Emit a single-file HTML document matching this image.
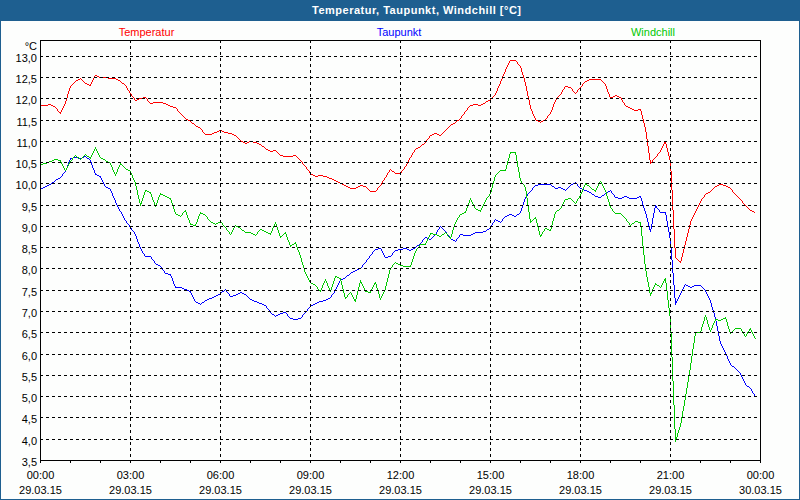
<!DOCTYPE html>
<html><head><meta charset="utf-8"><style>
html,body{margin:0;padding:0;width:800px;height:500px;overflow:hidden;background:#fff}
svg{display:block}
text{font-family:"Liberation Sans",sans-serif;font-size:11px;fill:#000}
.g{stroke:#000;stroke-width:1;stroke-dasharray:3 3;shape-rendering:crispEdges}
</style></head><body>
<svg width="800" height="500" viewBox="0 0 800 500">
<rect x="0" y="0" width="800" height="500" fill="#1e5f90"/>
<rect x="1" y="21" width="798" height="478" fill="#fdfefd"/>
<text x="312" y="14" style="font-weight:bold;fill:#fff;letter-spacing:0.5px">Temperatur, Taupunkt, Windchill [°C]</text>
<g shape-rendering="crispEdges">
<path d="M510 60h6v1h-6zM509 61h1v1h-1zM516 61h1v1h-1zM509 62h1v1h-1zM517 62h1v1h-1zM508 63h1v1h-1zM517 63h1v1h-1zM508 64h1v1h-1zM518 64h1v1h-1zM507 65h1v1h-1zM519 65h1v1h-1zM507 66h1v1h-1zM520 66h1v1h-1zM506 67h1v1h-1zM520 67h1v1h-1zM506 68h1v1h-1zM521 68h1v1h-1zM505 69h1v1h-1zM521 69h1v1h-1zM505 70h1v1h-1zM521 70h1v1h-1zM505 71h1v1h-1zM521 71h1v1h-1zM504 72h1v1h-1zM522 72h1v1h-1zM504 73h1v1h-1zM522 73h1v1h-1zM503 74h1v1h-1zM522 74h1v1h-1zM95 75h2v1h-2zM503 75h1v1h-1zM523 75h1v1h-1zM94 76h1v1h-1zM97 76h2v1h-2zM502 76h1v1h-1zM523 76h1v1h-1zM94 77h1v1h-1zM99 77h9v1h-9zM502 77h1v1h-1zM523 77h1v1h-1zM80 78h1v1h-1zM93 78h1v1h-1zM108 78h8v1h-8zM502 78h1v1h-1zM524 78h1v1h-1zM78 79h2v1h-2zM81 79h1v1h-1zM93 79h1v1h-1zM116 79h2v1h-2zM501 79h1v1h-1zM524 79h1v1h-1zM589 79h12v1h-12zM76 80h2v1h-2zM82 80h1v1h-1zM92 80h1v1h-1zM118 80h2v1h-2zM501 80h1v1h-1zM524 80h1v1h-1zM587 80h2v1h-2zM601 80h1v1h-1zM75 81h1v1h-1zM83 81h1v1h-1zM92 81h1v1h-1zM120 81h1v1h-1zM500 81h1v1h-1zM524 81h1v1h-1zM585 81h2v1h-2zM602 81h1v1h-1zM74 82h1v1h-1zM84 82h1v1h-1zM91 82h1v1h-1zM121 82h1v1h-1zM500 82h1v1h-1zM525 82h1v1h-1zM584 82h1v1h-1zM603 82h1v1h-1zM73 83h1v1h-1zM85 83h2v1h-2zM91 83h1v1h-1zM122 83h2v1h-2zM500 83h1v1h-1zM525 83h1v1h-1zM583 83h1v1h-1zM604 83h1v1h-1zM72 84h1v1h-1zM87 84h2v1h-2zM90 84h1v1h-1zM124 84h1v1h-1zM499 84h1v1h-1zM525 84h1v1h-1zM582 84h1v1h-1zM605 84h1v1h-1zM71 85h1v1h-1zM89 85h2v1h-2zM125 85h1v1h-1zM499 85h1v1h-1zM525 85h1v1h-1zM582 85h1v1h-1zM605 85h1v1h-1zM70 86h1v1h-1zM126 86h1v1h-1zM498 86h1v1h-1zM526 86h1v1h-1zM565 86h3v1h-3zM581 86h1v1h-1zM606 86h1v1h-1zM70 87h1v1h-1zM126 87h1v1h-1zM498 87h1v1h-1zM526 87h1v1h-1zM564 87h1v1h-1zM568 87h3v1h-3zM580 87h1v1h-1zM606 87h1v1h-1zM69 88h1v1h-1zM127 88h1v1h-1zM497 88h1v1h-1zM526 88h1v1h-1zM564 88h1v1h-1zM571 88h1v1h-1zM579 88h1v1h-1zM606 88h1v1h-1zM69 89h1v1h-1zM127 89h1v1h-1zM497 89h1v1h-1zM526 89h1v1h-1zM563 89h1v1h-1zM572 89h1v1h-1zM578 89h1v1h-1zM607 89h1v1h-1zM69 90h1v1h-1zM128 90h1v1h-1zM497 90h1v1h-1zM526 90h1v1h-1zM562 90h1v1h-1zM572 90h1v1h-1zM577 90h1v1h-1zM607 90h1v1h-1zM68 91h1v1h-1zM129 91h1v1h-1zM496 91h1v1h-1zM527 91h1v1h-1zM562 91h1v1h-1zM573 91h1v1h-1zM577 91h1v1h-1zM607 91h1v1h-1zM68 92h1v1h-1zM129 92h1v1h-1zM496 92h1v1h-1zM527 92h1v1h-1zM561 92h1v1h-1zM574 92h1v1h-1zM576 92h1v1h-1zM608 92h1v1h-1zM68 93h1v1h-1zM130 93h1v1h-1zM495 93h1v1h-1zM527 93h1v1h-1zM561 93h1v1h-1zM575 93h1v1h-1zM608 93h1v1h-1zM67 94h1v1h-1zM131 94h1v1h-1zM495 94h1v1h-1zM527 94h1v1h-1zM560 94h1v1h-1zM609 94h1v1h-1zM67 95h1v1h-1zM131 95h1v1h-1zM494 95h1v1h-1zM527 95h1v1h-1zM559 95h1v1h-1zM609 95h1v1h-1zM615 95h2v1h-2zM67 96h1v1h-1zM132 96h1v1h-1zM493 96h1v1h-1zM528 96h1v1h-1zM558 96h1v1h-1zM609 96h1v1h-1zM613 96h2v1h-2zM617 96h2v1h-2zM67 97h1v1h-1zM133 97h1v1h-1zM143 97h3v1h-3zM492 97h1v1h-1zM528 97h1v1h-1zM557 97h1v1h-1zM610 97h3v1h-3zM619 97h2v1h-2zM66 98h1v1h-1zM134 98h1v1h-1zM139 98h4v1h-4zM146 98h1v1h-1zM491 98h1v1h-1zM528 98h1v1h-1zM557 98h1v1h-1zM610 98h1v1h-1zM621 98h1v1h-1zM66 99h1v1h-1zM134 99h1v1h-1zM137 99h2v1h-2zM147 99h1v1h-1zM490 99h1v1h-1zM528 99h1v1h-1zM556 99h1v1h-1zM621 99h1v1h-1zM66 100h1v1h-1zM135 100h2v1h-2zM147 100h1v1h-1zM488 100h2v1h-2zM529 100h1v1h-1zM555 100h1v1h-1zM622 100h1v1h-1zM65 101h1v1h-1zM148 101h1v1h-1zM486 101h2v1h-2zM529 101h1v1h-1zM555 101h1v1h-1zM622 101h1v1h-1zM65 102h1v1h-1zM149 102h1v1h-1zM153 102h10v1h-10zM485 102h1v1h-1zM529 102h1v1h-1zM554 102h1v1h-1zM623 102h1v1h-1zM65 103h1v1h-1zM150 103h3v1h-3zM163 103h3v1h-3zM483 103h2v1h-2zM529 103h1v1h-1zM554 103h1v1h-1zM624 103h1v1h-1zM48 104h3v1h-3zM64 104h1v1h-1zM166 104h2v1h-2zM473 104h5v1h-5zM481 104h2v1h-2zM529 104h1v1h-1zM553 104h1v1h-1zM624 104h1v1h-1zM40 105h8v1h-8zM51 105h2v1h-2zM64 105h1v1h-1zM168 105h2v1h-2zM470 105h3v1h-3zM478 105h3v1h-3zM530 105h1v1h-1zM553 105h1v1h-1zM625 105h1v1h-1zM53 106h2v1h-2zM63 106h1v1h-1zM170 106h3v1h-3zM469 106h1v1h-1zM530 106h1v1h-1zM553 106h1v1h-1zM626 106h2v1h-2zM55 107h1v1h-1zM63 107h1v1h-1zM173 107h3v1h-3zM468 107h1v1h-1zM530 107h1v1h-1zM552 107h1v1h-1zM628 107h2v1h-2zM56 108h1v1h-1zM62 108h1v1h-1zM176 108h1v1h-1zM467 108h1v1h-1zM530 108h1v1h-1zM552 108h1v1h-1zM630 108h2v1h-2zM57 109h1v1h-1zM62 109h1v1h-1zM177 109h1v1h-1zM467 109h1v1h-1zM531 109h1v1h-1zM552 109h1v1h-1zM632 109h2v1h-2zM638 109h3v1h-3zM57 110h1v1h-1zM61 110h1v1h-1zM177 110h1v1h-1zM466 110h1v1h-1zM531 110h1v1h-1zM551 110h1v1h-1zM634 110h4v1h-4zM640 110h1v1h-1zM58 111h1v1h-1zM61 111h1v1h-1zM178 111h1v1h-1zM465 111h1v1h-1zM532 111h1v1h-1zM551 111h1v1h-1zM641 111h1v1h-1zM59 112h2v1h-2zM179 112h1v1h-1zM464 112h1v1h-1zM532 112h1v1h-1zM550 112h1v1h-1zM641 112h1v1h-1zM60 113h1v1h-1zM180 113h1v1h-1zM464 113h1v1h-1zM532 113h1v1h-1zM550 113h1v1h-1zM641 113h1v1h-1zM181 114h1v1h-1zM463 114h1v1h-1zM533 114h1v1h-1zM549 114h1v1h-1zM641 114h1v1h-1zM182 115h1v1h-1zM462 115h1v1h-1zM533 115h1v1h-1zM548 115h1v1h-1zM642 115h1v1h-1zM183 116h1v1h-1zM461 116h1v1h-1zM534 116h1v1h-1zM547 116h1v1h-1zM642 116h1v1h-1zM184 117h1v1h-1zM461 117h1v1h-1zM534 117h1v1h-1zM547 117h1v1h-1zM642 117h1v1h-1zM185 118h1v1h-1zM460 118h1v1h-1zM535 118h1v1h-1zM546 118h1v1h-1zM642 118h1v1h-1zM186 119h2v1h-2zM459 119h1v1h-1zM535 119h1v1h-1zM545 119h1v1h-1zM643 119h1v1h-1zM188 120h2v1h-2zM457 120h2v1h-2zM536 120h2v1h-2zM543 120h2v1h-2zM643 120h1v1h-1zM190 121h1v1h-1zM456 121h1v1h-1zM538 121h2v1h-2zM541 121h2v1h-2zM643 121h1v1h-1zM191 122h1v1h-1zM455 122h1v1h-1zM540 122h1v1h-1zM643 122h1v1h-1zM192 123h2v1h-2zM453 123h2v1h-2zM644 123h1v1h-1zM194 124h1v1h-1zM451 124h2v1h-2zM644 124h1v1h-1zM195 125h1v1h-1zM450 125h1v1h-1zM644 125h1v1h-1zM196 126h2v1h-2zM449 126h1v1h-1zM644 126h1v1h-1zM198 127h2v1h-2zM448 127h1v1h-1zM645 127h1v1h-1zM200 128h1v1h-1zM447 128h1v1h-1zM645 128h1v1h-1zM201 129h1v1h-1zM446 129h1v1h-1zM645 129h1v1h-1zM202 130h1v1h-1zM219 130h3v1h-3zM445 130h1v1h-1zM645 130h1v1h-1zM202 131h1v1h-1zM217 131h2v1h-2zM222 131h2v1h-2zM444 131h1v1h-1zM645 131h1v1h-1zM203 132h1v1h-1zM214 132h3v1h-3zM224 132h4v1h-4zM443 132h1v1h-1zM646 132h1v1h-1zM204 133h1v1h-1zM212 133h2v1h-2zM228 133h4v1h-4zM434 133h3v1h-3zM442 133h1v1h-1zM646 133h1v1h-1zM205 134h7v1h-7zM232 134h2v1h-2zM432 134h2v1h-2zM437 134h2v1h-2zM441 134h1v1h-1zM646 134h1v1h-1zM234 135h2v1h-2zM430 135h2v1h-2zM439 135h2v1h-2zM646 135h1v1h-1zM236 136h1v1h-1zM429 136h1v1h-1zM646 136h1v1h-1zM237 137h1v1h-1zM429 137h1v1h-1zM646 137h1v1h-1zM238 138h1v1h-1zM428 138h1v1h-1zM646 138h1v1h-1zM239 139h1v1h-1zM427 139h1v1h-1zM647 139h1v1h-1zM240 140h1v1h-1zM426 140h1v1h-1zM647 140h1v1h-1zM241 141h2v1h-2zM249 141h4v1h-4zM426 141h1v1h-1zM647 141h1v1h-1zM665 141h1v1h-1zM243 142h2v1h-2zM247 142h2v1h-2zM253 142h4v1h-4zM425 142h1v1h-1zM647 142h1v1h-1zM664 142h2v1h-2zM245 143h2v1h-2zM257 143h2v1h-2zM424 143h1v1h-1zM647 143h1v1h-1zM664 143h2v1h-2zM259 144h2v1h-2zM422 144h2v1h-2zM647 144h1v1h-1zM663 144h1v1h-1zM666 144h1v1h-1zM261 145h1v1h-1zM421 145h1v1h-1zM647 145h1v1h-1zM663 145h1v1h-1zM666 145h1v1h-1zM262 146h2v1h-2zM420 146h1v1h-1zM648 146h1v1h-1zM662 146h1v1h-1zM666 146h1v1h-1zM264 147h1v1h-1zM418 147h2v1h-2zM648 147h1v1h-1zM662 147h1v1h-1zM666 147h1v1h-1zM265 148h1v1h-1zM416 148h2v1h-2zM648 148h1v1h-1zM661 148h1v1h-1zM667 148h1v1h-1zM266 149h2v1h-2zM415 149h1v1h-1zM648 149h1v1h-1zM661 149h1v1h-1zM667 149h1v1h-1zM268 150h2v1h-2zM273 150h3v1h-3zM414 150h1v1h-1zM648 150h1v1h-1zM660 150h1v1h-1zM667 150h1v1h-1zM270 151h3v1h-3zM276 151h1v1h-1zM414 151h1v1h-1zM648 151h1v1h-1zM660 151h1v1h-1zM667 151h1v1h-1zM277 152h1v1h-1zM413 152h1v1h-1zM648 152h1v1h-1zM659 152h1v1h-1zM668 152h1v1h-1zM278 153h1v1h-1zM412 153h1v1h-1zM649 153h1v1h-1zM658 153h1v1h-1zM668 153h1v1h-1zM279 154h1v1h-1zM412 154h1v1h-1zM649 154h1v1h-1zM657 154h1v1h-1zM668 154h1v1h-1zM280 155h3v1h-3zM293 155h3v1h-3zM411 155h1v1h-1zM649 155h1v1h-1zM657 155h1v1h-1zM668 155h1v1h-1zM283 156h10v1h-10zM296 156h1v1h-1zM411 156h1v1h-1zM649 156h1v1h-1zM656 156h1v1h-1zM669 156h1v1h-1zM297 157h1v1h-1zM410 157h1v1h-1zM649 157h1v1h-1zM655 157h1v1h-1zM669 157h1v1h-1zM298 158h1v1h-1zM409 158h1v1h-1zM649 158h1v1h-1zM654 158h1v1h-1zM669 158h1v1h-1zM299 159h1v1h-1zM409 159h1v1h-1zM649 159h1v1h-1zM653 159h1v1h-1zM669 159h1v1h-1zM300 160h1v1h-1zM408 160h1v1h-1zM650 160h1v1h-1zM652 160h1v1h-1zM670 160h1v1h-1zM301 161h1v1h-1zM408 161h1v1h-1zM650 161h1v1h-1zM652 161h1v1h-1zM670 161h1v1h-1zM302 162h1v1h-1zM407 162h1v1h-1zM650 162h2v1h-2zM670 162h1v1h-1zM302 163h1v1h-1zM407 163h1v1h-1zM650 163h1v1h-1zM670 163h1v1h-1zM303 164h1v1h-1zM406 164h1v1h-1zM670 164h1v1h-1zM304 165h1v1h-1zM406 165h1v1h-1zM670 165h1v1h-1zM305 166h1v1h-1zM405 166h1v1h-1zM670 166h1v1h-1zM306 167h1v1h-1zM404 167h1v1h-1zM670 167h1v1h-1zM306 168h1v1h-1zM404 168h1v1h-1zM670 168h1v1h-1zM307 169h1v1h-1zM390 169h1v1h-1zM403 169h1v1h-1zM670 169h1v1h-1zM308 170h1v1h-1zM389 170h1v1h-1zM391 170h1v1h-1zM402 170h1v1h-1zM670 170h1v1h-1zM309 171h1v1h-1zM389 171h1v1h-1zM392 171h2v1h-2zM401 171h1v1h-1zM671 171h1v1h-1zM309 172h1v1h-1zM388 172h1v1h-1zM394 172h1v1h-1zM401 172h1v1h-1zM671 172h1v1h-1zM310 173h1v1h-1zM387 173h1v1h-1zM395 173h6v1h-6zM671 173h1v1h-1zM311 174h2v1h-2zM387 174h1v1h-1zM671 174h1v1h-1zM313 175h2v1h-2zM318 175h5v1h-5zM386 175h1v1h-1zM671 175h1v1h-1zM315 176h3v1h-3zM323 176h4v1h-4zM386 176h1v1h-1zM671 176h1v1h-1zM327 177h2v1h-2zM385 177h1v1h-1zM671 177h1v1h-1zM329 178h3v1h-3zM384 178h1v1h-1zM671 178h1v1h-1zM332 179h2v1h-2zM384 179h1v1h-1zM671 179h1v1h-1zM334 180h2v1h-2zM383 180h1v1h-1zM671 180h1v1h-1zM336 181h2v1h-2zM382 181h1v1h-1zM671 181h1v1h-1zM338 182h2v1h-2zM382 182h1v1h-1zM671 182h1v1h-1zM340 183h2v1h-2zM381 183h1v1h-1zM671 183h1v1h-1zM342 184h2v1h-2zM381 184h1v1h-1zM671 184h1v1h-1zM719 184h4v1h-4zM344 185h2v1h-2zM360 185h3v1h-3zM380 185h1v1h-1zM671 185h1v1h-1zM717 185h2v1h-2zM723 185h3v1h-3zM346 186h2v1h-2zM358 186h2v1h-2zM363 186h3v1h-3zM379 186h1v1h-1zM671 186h1v1h-1zM715 186h2v1h-2zM726 186h2v1h-2zM348 187h2v1h-2zM356 187h2v1h-2zM366 187h1v1h-1zM378 187h1v1h-1zM671 187h1v1h-1zM714 187h1v1h-1zM728 187h2v1h-2zM350 188h6v1h-6zM367 188h1v1h-1zM377 188h1v1h-1zM671 188h1v1h-1zM713 188h1v1h-1zM730 188h1v1h-1zM368 189h1v1h-1zM377 189h1v1h-1zM671 189h1v1h-1zM712 189h1v1h-1zM731 189h1v1h-1zM369 190h1v1h-1zM376 190h1v1h-1zM672 190h1v1h-1zM711 190h1v1h-1zM732 190h1v1h-1zM370 191h6v1h-6zM672 191h1v1h-1zM710 191h1v1h-1zM732 191h1v1h-1zM672 192h1v1h-1zM708 192h2v1h-2zM733 192h1v1h-1zM672 193h1v1h-1zM706 193h2v1h-2zM734 193h1v1h-1zM672 194h1v1h-1zM705 194h1v1h-1zM735 194h1v1h-1zM672 195h1v1h-1zM704 195h1v1h-1zM736 195h1v1h-1zM672 196h1v1h-1zM704 196h1v1h-1zM737 196h1v1h-1zM672 197h1v1h-1zM703 197h1v1h-1zM738 197h1v1h-1zM672 198h1v1h-1zM702 198h1v1h-1zM739 198h1v1h-1zM672 199h1v1h-1zM701 199h1v1h-1zM740 199h1v1h-1zM672 200h1v1h-1zM701 200h1v1h-1zM741 200h1v1h-1zM672 201h1v1h-1zM700 201h1v1h-1zM742 201h1v1h-1zM672 202h1v1h-1zM700 202h1v1h-1zM742 202h1v1h-1zM672 203h1v1h-1zM699 203h1v1h-1zM743 203h1v1h-1zM672 204h1v1h-1zM699 204h1v1h-1zM744 204h1v1h-1zM672 205h1v1h-1zM698 205h1v1h-1zM745 205h1v1h-1zM672 206h1v1h-1zM698 206h1v1h-1zM746 206h1v1h-1zM672 207h1v1h-1zM697 207h1v1h-1zM747 207h1v1h-1zM672 208h1v1h-1zM697 208h1v1h-1zM748 208h1v1h-1zM672 209h1v1h-1zM696 209h1v1h-1zM749 209h1v1h-1zM673 210h1v1h-1zM696 210h1v1h-1zM750 210h2v1h-2zM673 211h1v1h-1zM695 211h1v1h-1zM752 211h2v1h-2zM673 212h1v1h-1zM695 212h1v1h-1zM754 212h1v1h-1zM673 213h1v1h-1zM694 213h1v1h-1zM673 214h1v1h-1zM694 214h1v1h-1zM673 215h1v1h-1zM693 215h1v1h-1zM673 216h1v1h-1zM693 216h1v1h-1zM673 217h1v1h-1zM692 217h1v1h-1zM673 218h1v1h-1zM692 218h1v1h-1zM673 219h1v1h-1zM691 219h1v1h-1zM673 220h1v1h-1zM691 220h1v1h-1zM673 221h1v1h-1zM690 221h1v1h-1zM673 222h1v1h-1zM690 222h1v1h-1zM673 223h1v1h-1zM690 223h1v1h-1zM673 224h1v1h-1zM690 224h1v1h-1zM673 225h1v1h-1zM689 225h1v1h-1zM673 226h1v1h-1zM689 226h1v1h-1zM673 227h1v1h-1zM689 227h1v1h-1zM673 228h1v1h-1zM689 228h1v1h-1zM674 229h1v1h-1zM688 229h1v1h-1zM674 230h1v1h-1zM688 230h1v1h-1zM674 231h1v1h-1zM688 231h1v1h-1zM674 232h1v1h-1zM688 232h1v1h-1zM674 233h1v1h-1zM687 233h1v1h-1zM674 234h1v1h-1zM687 234h1v1h-1zM674 235h1v1h-1zM687 235h1v1h-1zM674 236h1v1h-1zM687 236h1v1h-1zM674 237h1v1h-1zM686 237h1v1h-1zM674 238h1v1h-1zM686 238h1v1h-1zM674 239h1v1h-1zM686 239h1v1h-1zM674 240h1v1h-1zM686 240h1v1h-1zM674 241h1v1h-1zM685 241h1v1h-1zM674 242h1v1h-1zM685 242h1v1h-1zM674 243h1v1h-1zM685 243h1v1h-1zM674 244h1v1h-1zM685 244h1v1h-1zM674 245h1v1h-1zM684 245h1v1h-1zM674 246h1v1h-1zM684 246h1v1h-1zM674 247h1v1h-1zM684 247h1v1h-1zM675 248h1v1h-1zM684 248h1v1h-1zM675 249h1v1h-1zM683 249h1v1h-1zM675 250h1v1h-1zM683 250h1v1h-1zM675 251h1v1h-1zM683 251h1v1h-1zM675 252h1v1h-1zM683 252h1v1h-1zM675 253h1v1h-1zM682 253h1v1h-1zM675 254h1v1h-1zM682 254h1v1h-1zM675 255h1v1h-1zM682 255h1v1h-1zM675 256h1v1h-1zM682 256h1v1h-1zM675 257h1v1h-1zM681 257h1v1h-1zM676 258h1v1h-1zM681 258h1v1h-1zM677 259h1v1h-1zM681 259h1v1h-1zM678 260h1v1h-1zM681 260h1v1h-1zM679 261h2v1h-2zM680 262h1v1h-1z" fill="#ff0000"/><path d="M84 156h2v1h-2zM73 157h5v1h-5zM82 157h2v1h-2zM86 157h1v1h-1zM70 158h3v1h-3zM78 158h4v1h-4zM87 158h2v1h-2zM70 159h1v1h-1zM89 159h1v1h-1zM69 160h1v1h-1zM90 160h1v1h-1zM69 161h1v1h-1zM90 161h1v1h-1zM68 162h1v1h-1zM91 162h1v1h-1zM68 163h1v1h-1zM91 163h1v1h-1zM68 164h1v1h-1zM91 164h1v1h-1zM67 165h1v1h-1zM92 165h1v1h-1zM67 166h1v1h-1zM92 166h1v1h-1zM67 167h1v1h-1zM92 167h1v1h-1zM66 168h1v1h-1zM93 168h1v1h-1zM66 169h1v1h-1zM93 169h1v1h-1zM65 170h1v1h-1zM94 170h1v1h-1zM65 171h1v1h-1zM94 171h1v1h-1zM64 172h1v1h-1zM94 172h1v1h-1zM63 173h1v1h-1zM95 173h1v1h-1zM62 174h1v1h-1zM95 174h2v1h-2zM62 175h1v1h-1zM97 175h2v1h-2zM61 176h1v1h-1zM99 176h2v1h-2zM60 177h1v1h-1zM100 177h1v1h-1zM58 178h2v1h-2zM101 178h1v1h-1zM56 179h2v1h-2zM101 179h1v1h-1zM55 180h1v1h-1zM102 180h1v1h-1zM54 181h1v1h-1zM102 181h1v1h-1zM52 182h2v1h-2zM103 182h1v1h-1zM575 182h1v1h-1zM51 183h1v1h-1zM103 183h1v1h-1zM573 183h2v1h-2zM576 183h1v1h-1zM49 184h2v1h-2zM104 184h1v1h-1zM538 184h13v1h-13zM571 184h2v1h-2zM577 184h1v1h-1zM47 185h2v1h-2zM104 185h1v1h-1zM535 185h3v1h-3zM551 185h1v1h-1zM570 185h1v1h-1zM577 185h1v1h-1zM45 186h2v1h-2zM105 186h1v1h-1zM534 186h1v1h-1zM552 186h2v1h-2zM569 186h1v1h-1zM578 186h1v1h-1zM43 187h2v1h-2zM106 187h2v1h-2zM533 187h1v1h-1zM554 187h1v1h-1zM558 187h3v1h-3zM568 187h1v1h-1zM579 187h1v1h-1zM41 188h2v1h-2zM108 188h2v1h-2zM532 188h1v1h-1zM555 188h3v1h-3zM561 188h2v1h-2zM567 188h1v1h-1zM580 188h2v1h-2zM40 189h1v1h-1zM110 189h1v1h-1zM532 189h1v1h-1zM563 189h2v1h-2zM566 189h1v1h-1zM582 189h2v1h-2zM110 190h1v1h-1zM531 190h1v1h-1zM565 190h1v1h-1zM584 190h3v1h-3zM610 190h1v1h-1zM111 191h1v1h-1zM530 191h1v1h-1zM587 191h2v1h-2zM608 191h2v1h-2zM611 191h1v1h-1zM111 192h1v1h-1zM529 192h1v1h-1zM589 192h2v1h-2zM606 192h2v1h-2zM611 192h1v1h-1zM112 193h1v1h-1zM528 193h1v1h-1zM591 193h1v1h-1zM605 193h1v1h-1zM612 193h1v1h-1zM112 194h1v1h-1zM527 194h1v1h-1zM592 194h2v1h-2zM604 194h1v1h-1zM613 194h1v1h-1zM112 195h1v1h-1zM527 195h1v1h-1zM594 195h1v1h-1zM602 195h2v1h-2zM614 195h1v1h-1zM113 196h1v1h-1zM526 196h1v1h-1zM595 196h3v1h-3zM601 196h1v1h-1zM614 196h1v1h-1zM624 196h3v1h-3zM639 196h2v1h-2zM113 197h1v1h-1zM525 197h1v1h-1zM598 197h3v1h-3zM615 197h3v1h-3zM622 197h2v1h-2zM627 197h2v1h-2zM637 197h2v1h-2zM640 197h1v1h-1zM114 198h1v1h-1zM525 198h1v1h-1zM618 198h4v1h-4zM629 198h8v1h-8zM641 198h1v1h-1zM114 199h1v1h-1zM524 199h1v1h-1zM641 199h1v1h-1zM115 200h1v1h-1zM524 200h1v1h-1zM641 200h1v1h-1zM115 201h1v1h-1zM524 201h1v1h-1zM642 201h1v1h-1zM115 202h1v1h-1zM523 202h1v1h-1zM642 202h1v1h-1zM116 203h1v1h-1zM523 203h1v1h-1zM642 203h1v1h-1zM116 204h1v1h-1zM523 204h1v1h-1zM642 204h1v1h-1zM117 205h1v1h-1zM522 205h1v1h-1zM643 205h1v1h-1zM655 205h1v1h-1zM117 206h1v1h-1zM522 206h1v1h-1zM643 206h1v1h-1zM655 206h2v1h-2zM118 207h1v1h-1zM522 207h1v1h-1zM643 207h1v1h-1zM655 207h2v1h-2zM118 208h1v1h-1zM521 208h1v1h-1zM644 208h1v1h-1zM654 208h1v1h-1zM657 208h1v1h-1zM119 209h1v1h-1zM521 209h1v1h-1zM644 209h1v1h-1zM654 209h1v1h-1zM658 209h1v1h-1zM119 210h1v1h-1zM521 210h1v1h-1zM644 210h1v1h-1zM654 210h1v1h-1zM659 210h1v1h-1zM120 211h1v1h-1zM520 211h1v1h-1zM645 211h1v1h-1zM654 211h1v1h-1zM659 211h1v1h-1zM121 212h1v1h-1zM520 212h1v1h-1zM645 212h1v1h-1zM654 212h1v1h-1zM660 212h6v1h-6zM121 213h1v1h-1zM519 213h1v1h-1zM645 213h1v1h-1zM653 213h1v1h-1zM665 213h1v1h-1zM122 214h1v1h-1zM509 214h3v1h-3zM517 214h2v1h-2zM646 214h1v1h-1zM653 214h1v1h-1zM665 214h1v1h-1zM122 215h1v1h-1zM507 215h2v1h-2zM512 215h2v1h-2zM516 215h1v1h-1zM646 215h1v1h-1zM653 215h1v1h-1zM666 215h1v1h-1zM123 216h1v1h-1zM505 216h2v1h-2zM514 216h2v1h-2zM646 216h1v1h-1zM653 216h1v1h-1zM666 216h1v1h-1zM123 217h1v1h-1zM504 217h1v1h-1zM646 217h1v1h-1zM653 217h1v1h-1zM666 217h1v1h-1zM124 218h1v1h-1zM503 218h1v1h-1zM647 218h1v1h-1zM652 218h1v1h-1zM666 218h1v1h-1zM124 219h1v1h-1zM495 219h1v1h-1zM502 219h1v1h-1zM647 219h1v1h-1zM652 219h1v1h-1zM666 219h1v1h-1zM125 220h1v1h-1zM494 220h1v1h-1zM496 220h2v1h-2zM502 220h1v1h-1zM647 220h1v1h-1zM652 220h1v1h-1zM666 220h1v1h-1zM126 221h1v1h-1zM494 221h1v1h-1zM498 221h2v1h-2zM501 221h1v1h-1zM647 221h1v1h-1zM652 221h1v1h-1zM667 221h1v1h-1zM126 222h1v1h-1zM493 222h1v1h-1zM500 222h1v1h-1zM648 222h1v1h-1zM652 222h1v1h-1zM667 222h1v1h-1zM127 223h1v1h-1zM492 223h1v1h-1zM648 223h1v1h-1zM652 223h1v1h-1zM667 223h1v1h-1zM128 224h1v1h-1zM492 224h1v1h-1zM648 224h1v1h-1zM651 224h1v1h-1zM667 224h1v1h-1zM129 225h1v1h-1zM491 225h1v1h-1zM648 225h1v1h-1zM651 225h1v1h-1zM667 225h1v1h-1zM129 226h1v1h-1zM440 226h1v1h-1zM491 226h1v1h-1zM649 226h1v1h-1zM651 226h1v1h-1zM667 226h1v1h-1zM130 227h1v1h-1zM439 227h1v1h-1zM441 227h1v1h-1zM490 227h1v1h-1zM649 227h1v1h-1zM651 227h1v1h-1zM668 227h1v1h-1zM131 228h1v1h-1zM439 228h1v1h-1zM442 228h1v1h-1zM489 228h1v1h-1zM649 228h1v1h-1zM651 228h1v1h-1zM668 228h1v1h-1zM131 229h1v1h-1zM438 229h1v1h-1zM443 229h1v1h-1zM487 229h2v1h-2zM649 229h2v1h-2zM668 229h1v1h-1zM132 230h1v1h-1zM437 230h1v1h-1zM444 230h1v1h-1zM486 230h1v1h-1zM650 230h1v1h-1zM668 230h1v1h-1zM133 231h1v1h-1zM437 231h1v1h-1zM445 231h1v1h-1zM483 231h3v1h-3zM650 231h1v1h-1zM668 231h1v1h-1zM134 232h1v1h-1zM436 232h1v1h-1zM446 232h1v1h-1zM475 232h8v1h-8zM669 232h1v1h-1zM134 233h1v1h-1zM436 233h1v1h-1zM446 233h1v1h-1zM473 233h2v1h-2zM669 233h1v1h-1zM135 234h1v1h-1zM435 234h1v1h-1zM447 234h1v1h-1zM460 234h3v1h-3zM471 234h2v1h-2zM669 234h1v1h-1zM135 235h1v1h-1zM434 235h1v1h-1zM448 235h1v1h-1zM459 235h1v1h-1zM463 235h8v1h-8zM669 235h1v1h-1zM136 236h1v1h-1zM433 236h1v1h-1zM449 236h1v1h-1zM459 236h1v1h-1zM669 236h1v1h-1zM136 237h1v1h-1zM425 237h2v1h-2zM432 237h1v1h-1zM449 237h1v1h-1zM458 237h1v1h-1zM669 237h1v1h-1zM136 238h1v1h-1zM424 238h1v1h-1zM427 238h2v1h-2zM431 238h1v1h-1zM450 238h1v1h-1zM457 238h1v1h-1zM670 238h1v1h-1zM137 239h1v1h-1zM423 239h1v1h-1zM429 239h2v1h-2zM451 239h2v1h-2zM456 239h1v1h-1zM670 239h1v1h-1zM137 240h1v1h-1zM422 240h1v1h-1zM453 240h2v1h-2zM456 240h1v1h-1zM670 240h1v1h-1zM137 241h1v1h-1zM422 241h1v1h-1zM455 241h1v1h-1zM670 241h1v1h-1zM138 242h1v1h-1zM421 242h1v1h-1zM670 242h1v1h-1zM138 243h1v1h-1zM420 243h1v1h-1zM670 243h1v1h-1zM139 244h1v1h-1zM419 244h1v1h-1zM670 244h1v1h-1zM139 245h1v1h-1zM417 245h2v1h-2zM670 245h1v1h-1zM139 246h1v1h-1zM416 246h1v1h-1zM670 246h1v1h-1zM140 247h1v1h-1zM415 247h1v1h-1zM671 247h1v1h-1zM140 248h1v1h-1zM378 248h3v1h-3zM403 248h4v1h-4zM413 248h2v1h-2zM671 248h1v1h-1zM141 249h1v1h-1zM375 249h3v1h-3zM381 249h1v1h-1zM398 249h5v1h-5zM407 249h2v1h-2zM411 249h2v1h-2zM671 249h1v1h-1zM141 250h1v1h-1zM374 250h1v1h-1zM381 250h1v1h-1zM395 250h3v1h-3zM409 250h2v1h-2zM671 250h1v1h-1zM142 251h1v1h-1zM373 251h1v1h-1zM382 251h1v1h-1zM394 251h1v1h-1zM671 251h1v1h-1zM142 252h1v1h-1zM372 252h1v1h-1zM382 252h1v1h-1zM393 252h1v1h-1zM671 252h1v1h-1zM143 253h1v1h-1zM372 253h1v1h-1zM383 253h1v1h-1zM392 253h1v1h-1zM671 253h1v1h-1zM144 254h1v1h-1zM371 254h1v1h-1zM383 254h1v1h-1zM392 254h1v1h-1zM671 254h1v1h-1zM144 255h1v1h-1zM370 255h1v1h-1zM384 255h1v1h-1zM391 255h1v1h-1zM671 255h1v1h-1zM145 256h6v1h-6zM369 256h1v1h-1zM384 256h1v1h-1zM388 256h3v1h-3zM671 256h1v1h-1zM151 257h1v1h-1zM369 257h1v1h-1zM385 257h3v1h-3zM671 257h1v1h-1zM151 258h1v1h-1zM368 258h1v1h-1zM671 258h1v1h-1zM152 259h1v1h-1zM367 259h1v1h-1zM671 259h1v1h-1zM153 260h1v1h-1zM366 260h1v1h-1zM672 260h1v1h-1zM154 261h1v1h-1zM366 261h1v1h-1zM672 261h1v1h-1zM154 262h1v1h-1zM365 262h1v1h-1zM672 262h1v1h-1zM155 263h1v1h-1zM364 263h1v1h-1zM672 263h1v1h-1zM156 264h2v1h-2zM363 264h1v1h-1zM672 264h1v1h-1zM158 265h2v1h-2zM362 265h1v1h-1zM672 265h1v1h-1zM160 266h1v1h-1zM362 266h1v1h-1zM672 266h1v1h-1zM161 267h1v1h-1zM361 267h1v1h-1zM672 267h1v1h-1zM161 268h1v1h-1zM359 268h2v1h-2zM672 268h1v1h-1zM162 269h1v1h-1zM357 269h2v1h-2zM672 269h1v1h-1zM163 270h1v1h-1zM355 270h2v1h-2zM672 270h1v1h-1zM164 271h1v1h-1zM353 271h2v1h-2zM672 271h1v1h-1zM164 272h1v1h-1zM351 272h2v1h-2zM672 272h1v1h-1zM165 273h3v1h-3zM350 273h1v1h-1zM673 273h1v1h-1zM168 274h3v1h-3zM349 274h1v1h-1zM673 274h1v1h-1zM170 275h1v1h-1zM347 275h2v1h-2zM673 275h1v1h-1zM171 276h1v1h-1zM346 276h1v1h-1zM673 276h1v1h-1zM171 277h1v1h-1zM345 277h1v1h-1zM673 277h1v1h-1zM172 278h1v1h-1zM343 278h2v1h-2zM673 278h1v1h-1zM172 279h1v1h-1zM341 279h2v1h-2zM673 279h1v1h-1zM172 280h1v1h-1zM340 280h1v1h-1zM673 280h1v1h-1zM173 281h1v1h-1zM339 281h1v1h-1zM673 281h1v1h-1zM173 282h1v1h-1zM339 282h1v1h-1zM673 282h1v1h-1zM173 283h1v1h-1zM338 283h1v1h-1zM673 283h1v1h-1zM174 284h1v1h-1zM338 284h1v1h-1zM673 284h1v1h-1zM685 284h1v1h-1zM174 285h1v1h-1zM337 285h1v1h-1zM674 285h1v1h-1zM684 285h1v1h-1zM686 285h2v1h-2zM694 285h7v1h-7zM175 286h1v1h-1zM337 286h1v1h-1zM674 286h1v1h-1zM684 286h1v1h-1zM688 286h2v1h-2zM692 286h2v1h-2zM701 286h1v1h-1zM175 287h7v1h-7zM336 287h1v1h-1zM674 287h1v1h-1zM683 287h1v1h-1zM690 287h2v1h-2zM702 287h1v1h-1zM182 288h2v1h-2zM336 288h1v1h-1zM674 288h1v1h-1zM683 288h1v1h-1zM703 288h1v1h-1zM184 289h3v1h-3zM225 289h1v1h-1zM335 289h1v1h-1zM674 289h1v1h-1zM682 289h1v1h-1zM704 289h1v1h-1zM187 290h2v1h-2zM224 290h1v1h-1zM226 290h1v1h-1zM335 290h1v1h-1zM674 290h1v1h-1zM682 290h1v1h-1zM705 290h1v1h-1zM189 291h2v1h-2zM222 291h2v1h-2zM226 291h1v1h-1zM334 291h1v1h-1zM674 291h1v1h-1zM681 291h1v1h-1zM705 291h1v1h-1zM190 292h1v1h-1zM221 292h1v1h-1zM227 292h1v1h-1zM240 292h2v1h-2zM334 292h1v1h-1zM674 292h1v1h-1zM681 292h1v1h-1zM706 292h1v1h-1zM191 293h1v1h-1zM220 293h1v1h-1zM228 293h1v1h-1zM238 293h2v1h-2zM242 293h2v1h-2zM333 293h1v1h-1zM674 293h1v1h-1zM680 293h1v1h-1zM706 293h1v1h-1zM191 294h1v1h-1zM218 294h2v1h-2zM229 294h1v1h-1zM236 294h2v1h-2zM244 294h2v1h-2zM332 294h1v1h-1zM674 294h1v1h-1zM680 294h1v1h-1zM707 294h1v1h-1zM192 295h1v1h-1zM216 295h2v1h-2zM229 295h1v1h-1zM233 295h3v1h-3zM246 295h1v1h-1zM331 295h1v1h-1zM674 295h1v1h-1zM679 295h1v1h-1zM707 295h1v1h-1zM192 296h1v1h-1zM214 296h2v1h-2zM230 296h3v1h-3zM247 296h1v1h-1zM331 296h1v1h-1zM674 296h1v1h-1zM679 296h1v1h-1zM708 296h1v1h-1zM193 297h1v1h-1zM212 297h2v1h-2zM248 297h1v1h-1zM330 297h1v1h-1zM674 297h1v1h-1zM678 297h1v1h-1zM708 297h1v1h-1zM193 298h1v1h-1zM209 298h3v1h-3zM249 298h1v1h-1zM328 298h2v1h-2zM675 298h1v1h-1zM678 298h1v1h-1zM709 298h1v1h-1zM194 299h1v1h-1zM207 299h2v1h-2zM250 299h2v1h-2zM326 299h2v1h-2zM675 299h1v1h-1zM677 299h1v1h-1zM709 299h1v1h-1zM194 300h1v1h-1zM205 300h2v1h-2zM252 300h2v1h-2zM323 300h3v1h-3zM675 300h1v1h-1zM677 300h1v1h-1zM710 300h1v1h-1zM195 301h1v1h-1zM204 301h1v1h-1zM254 301h3v1h-3zM319 301h4v1h-4zM675 301h2v1h-2zM710 301h1v1h-1zM196 302h2v1h-2zM202 302h2v1h-2zM257 302h2v1h-2zM317 302h2v1h-2zM675 302h2v1h-2zM710 302h1v1h-1zM198 303h2v1h-2zM201 303h1v1h-1zM259 303h3v1h-3zM315 303h2v1h-2zM675 303h1v1h-1zM711 303h1v1h-1zM200 304h1v1h-1zM262 304h2v1h-2zM313 304h2v1h-2zM675 304h1v1h-1zM711 304h1v1h-1zM264 305h2v1h-2zM311 305h2v1h-2zM711 305h1v1h-1zM266 306h1v1h-1zM310 306h1v1h-1zM711 306h1v1h-1zM266 307h1v1h-1zM309 307h1v1h-1zM712 307h1v1h-1zM267 308h1v1h-1zM308 308h1v1h-1zM712 308h1v1h-1zM268 309h1v1h-1zM307 309h1v1h-1zM712 309h1v1h-1zM269 310h1v1h-1zM307 310h1v1h-1zM713 310h1v1h-1zM269 311h1v1h-1zM306 311h1v1h-1zM713 311h1v1h-1zM270 312h1v1h-1zM283 312h3v1h-3zM305 312h1v1h-1zM713 312h1v1h-1zM271 313h1v1h-1zM280 313h3v1h-3zM286 313h1v1h-1zM304 313h1v1h-1zM714 313h1v1h-1zM272 314h2v1h-2zM278 314h2v1h-2zM287 314h1v1h-1zM303 314h1v1h-1zM714 314h1v1h-1zM274 315h1v1h-1zM276 315h2v1h-2zM287 315h1v1h-1zM302 315h1v1h-1zM714 315h1v1h-1zM275 316h1v1h-1zM288 316h1v1h-1zM302 316h1v1h-1zM714 316h1v1h-1zM289 317h1v1h-1zM301 317h1v1h-1zM715 317h1v1h-1zM290 318h3v1h-3zM298 318h3v1h-3zM715 318h1v1h-1zM293 319h5v1h-5zM715 319h1v1h-1zM715 320h1v1h-1zM716 321h1v1h-1zM716 322h1v1h-1zM716 323h1v1h-1zM716 324h1v1h-1zM716 325h1v1h-1zM717 326h1v1h-1zM717 327h1v1h-1zM717 328h1v1h-1zM717 329h1v1h-1zM717 330h1v1h-1zM718 331h1v1h-1zM718 332h1v1h-1zM718 333h1v1h-1zM718 334h1v1h-1zM718 335h1v1h-1zM719 336h1v1h-1zM719 337h1v1h-1zM719 338h1v1h-1zM719 339h1v1h-1zM719 340h1v1h-1zM720 341h1v1h-1zM720 342h1v1h-1zM720 343h1v1h-1zM721 344h1v1h-1zM721 345h1v1h-1zM722 346h1v1h-1zM722 347h1v1h-1zM723 348h1v1h-1zM723 349h1v1h-1zM724 350h1v1h-1zM724 351h1v1h-1zM725 352h1v1h-1zM725 353h1v1h-1zM726 354h1v1h-1zM726 355h1v1h-1zM727 356h1v1h-1zM727 357h1v1h-1zM727 358h1v1h-1zM728 359h1v1h-1zM728 360h1v1h-1zM729 361h1v1h-1zM729 362h1v1h-1zM730 363h1v1h-1zM730 364h1v1h-1zM731 365h1v1h-1zM732 366h2v1h-2zM734 367h1v1h-1zM735 368h1v1h-1zM736 369h1v1h-1zM737 370h1v1h-1zM738 371h1v1h-1zM739 372h1v1h-1zM740 373h1v1h-1zM740 374h1v1h-1zM741 375h1v1h-1zM741 376h1v1h-1zM742 377h1v1h-1zM742 378h1v1h-1zM743 379h1v1h-1zM743 380h1v1h-1zM744 381h1v1h-1zM744 382h1v1h-1zM745 383h1v1h-1zM745 384h1v1h-1zM746 385h1v1h-1zM747 386h2v1h-2zM749 387h1v1h-1zM750 388h1v1h-1zM751 389h1v1h-1zM751 390h1v1h-1zM752 391h1v1h-1zM752 392h1v1h-1zM753 393h1v1h-1zM754 394h1v1h-1zM754 395h1v1h-1z" fill="#0000ff"/><path d="M95 147h1v1h-1zM95 148h1v1h-1zM94 149h1v1h-1zM96 149h1v1h-1zM94 150h1v1h-1zM96 150h1v1h-1zM93 151h1v1h-1zM97 151h1v1h-1zM93 152h1v1h-1zM97 152h1v1h-1zM510 152h6v1h-6zM92 153h1v1h-1zM98 153h1v1h-1zM510 153h1v1h-1zM515 153h1v1h-1zM85 154h1v1h-1zM92 154h1v1h-1zM98 154h1v1h-1zM509 154h1v1h-1zM515 154h1v1h-1zM75 155h1v1h-1zM84 155h1v1h-1zM86 155h1v1h-1zM91 155h1v1h-1zM99 155h1v1h-1zM509 155h1v1h-1zM516 155h1v1h-1zM74 156h1v1h-1zM76 156h1v1h-1zM83 156h1v1h-1zM87 156h2v1h-2zM91 156h1v1h-1zM99 156h1v1h-1zM509 156h1v1h-1zM516 156h1v1h-1zM73 157h1v1h-1zM77 157h2v1h-2zM82 157h1v1h-1zM89 157h2v1h-2zM100 157h1v1h-1zM509 157h1v1h-1zM516 157h1v1h-1zM72 158h1v1h-1zM79 158h1v1h-1zM81 158h1v1h-1zM90 158h1v1h-1zM101 158h2v1h-2zM508 158h1v1h-1zM516 158h1v1h-1zM54 159h4v1h-4zM72 159h1v1h-1zM80 159h1v1h-1zM103 159h2v1h-2zM508 159h1v1h-1zM516 159h1v1h-1zM52 160h2v1h-2zM58 160h3v1h-3zM71 160h1v1h-1zM105 160h1v1h-1zM508 160h1v1h-1zM516 160h1v1h-1zM49 161h3v1h-3zM60 161h1v1h-1zM70 161h1v1h-1zM106 161h2v1h-2zM507 161h1v1h-1zM517 161h1v1h-1zM47 162h2v1h-2zM61 162h1v1h-1zM69 162h1v1h-1zM108 162h2v1h-2zM507 162h1v1h-1zM517 162h1v1h-1zM43 163h4v1h-4zM61 163h1v1h-1zM69 163h1v1h-1zM110 163h1v1h-1zM120 163h1v1h-1zM507 163h1v1h-1zM517 163h1v1h-1zM40 164h3v1h-3zM62 164h1v1h-1zM68 164h1v1h-1zM110 164h1v1h-1zM120 164h2v1h-2zM507 164h1v1h-1zM517 164h1v1h-1zM62 165h1v1h-1zM68 165h1v1h-1zM111 165h1v1h-1zM119 165h1v1h-1zM122 165h1v1h-1zM506 165h1v1h-1zM517 165h1v1h-1zM63 166h1v1h-1zM67 166h1v1h-1zM111 166h1v1h-1zM119 166h1v1h-1zM123 166h1v1h-1zM506 166h1v1h-1zM517 166h1v1h-1zM63 167h1v1h-1zM67 167h1v1h-1zM112 167h1v1h-1zM118 167h1v1h-1zM124 167h1v1h-1zM506 167h1v1h-1zM518 167h1v1h-1zM64 168h1v1h-1zM66 168h1v1h-1zM112 168h1v1h-1zM118 168h1v1h-1zM125 168h1v1h-1zM506 168h1v1h-1zM518 168h1v1h-1zM64 169h1v1h-1zM66 169h1v1h-1zM112 169h1v1h-1zM117 169h1v1h-1zM126 169h2v1h-2zM505 169h1v1h-1zM518 169h1v1h-1zM65 170h1v1h-1zM113 170h1v1h-1zM117 170h1v1h-1zM128 170h2v1h-2zM500 170h6v1h-6zM518 170h1v1h-1zM113 171h1v1h-1zM117 171h1v1h-1zM130 171h1v1h-1zM499 171h1v1h-1zM518 171h1v1h-1zM114 172h1v1h-1zM116 172h1v1h-1zM130 172h1v1h-1zM498 172h1v1h-1zM519 172h1v1h-1zM114 173h1v1h-1zM116 173h1v1h-1zM131 173h1v1h-1zM497 173h1v1h-1zM519 173h1v1h-1zM115 174h1v1h-1zM131 174h1v1h-1zM496 174h1v1h-1zM519 174h1v1h-1zM115 175h1v1h-1zM132 175h1v1h-1zM495 175h1v1h-1zM519 175h1v1h-1zM132 176h1v1h-1zM495 176h1v1h-1zM519 176h1v1h-1zM132 177h1v1h-1zM494 177h1v1h-1zM519 177h1v1h-1zM133 178h1v1h-1zM494 178h1v1h-1zM520 178h1v1h-1zM133 179h1v1h-1zM494 179h1v1h-1zM520 179h1v1h-1zM134 180h1v1h-1zM494 180h1v1h-1zM520 180h1v1h-1zM134 181h1v1h-1zM493 181h1v1h-1zM521 181h1v1h-1zM600 181h1v1h-1zM135 182h1v1h-1zM493 182h1v1h-1zM521 182h1v1h-1zM599 182h1v1h-1zM601 182h1v1h-1zM135 183h1v1h-1zM493 183h1v1h-1zM522 183h1v1h-1zM585 183h1v1h-1zM599 183h1v1h-1zM601 183h1v1h-1zM135 184h1v1h-1zM492 184h1v1h-1zM523 184h1v1h-1zM585 184h2v1h-2zM598 184h1v1h-1zM602 184h1v1h-1zM135 185h1v1h-1zM492 185h1v1h-1zM524 185h1v1h-1zM584 185h1v1h-1zM587 185h2v1h-2zM598 185h1v1h-1zM602 185h1v1h-1zM136 186h1v1h-1zM492 186h1v1h-1zM524 186h1v1h-1zM584 186h1v1h-1zM589 186h1v1h-1zM597 186h1v1h-1zM603 186h1v1h-1zM136 187h1v1h-1zM492 187h1v1h-1zM525 187h1v1h-1zM583 187h1v1h-1zM590 187h1v1h-1zM597 187h1v1h-1zM603 187h1v1h-1zM136 188h1v1h-1zM491 188h1v1h-1zM525 188h1v1h-1zM583 188h1v1h-1zM591 188h1v1h-1zM596 188h1v1h-1zM604 188h1v1h-1zM136 189h1v1h-1zM491 189h1v1h-1zM525 189h1v1h-1zM582 189h1v1h-1zM592 189h2v1h-2zM596 189h1v1h-1zM604 189h1v1h-1zM137 190h1v1h-1zM145 190h2v1h-2zM491 190h1v1h-1zM525 190h1v1h-1zM582 190h1v1h-1zM594 190h2v1h-2zM605 190h1v1h-1zM137 191h1v1h-1zM145 191h1v1h-1zM147 191h2v1h-2zM491 191h1v1h-1zM526 191h1v1h-1zM582 191h1v1h-1zM595 191h1v1h-1zM605 191h1v1h-1zM137 192h1v1h-1zM144 192h1v1h-1zM149 192h2v1h-2zM490 192h1v1h-1zM526 192h1v1h-1zM581 192h1v1h-1zM606 192h1v1h-1zM137 193h1v1h-1zM144 193h1v1h-1zM150 193h1v1h-1zM160 193h1v1h-1zM490 193h1v1h-1zM526 193h1v1h-1zM581 193h1v1h-1zM606 193h1v1h-1zM137 194h1v1h-1zM144 194h1v1h-1zM151 194h1v1h-1zM160 194h3v1h-3zM489 194h1v1h-1zM526 194h1v1h-1zM580 194h1v1h-1zM606 194h1v1h-1zM138 195h1v1h-1zM143 195h1v1h-1zM151 195h1v1h-1zM159 195h1v1h-1zM163 195h2v1h-2zM489 195h1v1h-1zM526 195h1v1h-1zM580 195h1v1h-1zM606 195h1v1h-1zM138 196h1v1h-1zM143 196h1v1h-1zM151 196h1v1h-1zM159 196h1v1h-1zM165 196h2v1h-2zM488 196h1v1h-1zM526 196h1v1h-1zM579 196h1v1h-1zM607 196h1v1h-1zM138 197h1v1h-1zM143 197h1v1h-1zM152 197h1v1h-1zM158 197h1v1h-1zM167 197h2v1h-2zM487 197h1v1h-1zM526 197h1v1h-1zM579 197h1v1h-1zM607 197h1v1h-1zM138 198h1v1h-1zM142 198h1v1h-1zM152 198h1v1h-1zM158 198h1v1h-1zM169 198h2v1h-2zM470 198h1v1h-1zM486 198h1v1h-1zM527 198h1v1h-1zM568 198h3v1h-3zM578 198h1v1h-1zM607 198h1v1h-1zM139 199h1v1h-1zM142 199h1v1h-1zM152 199h1v1h-1zM158 199h1v1h-1zM170 199h1v1h-1zM470 199h1v1h-1zM486 199h1v1h-1zM527 199h1v1h-1zM565 199h3v1h-3zM571 199h1v1h-1zM577 199h1v1h-1zM608 199h1v1h-1zM139 200h1v1h-1zM142 200h1v1h-1zM153 200h1v1h-1zM157 200h1v1h-1zM171 200h1v1h-1zM469 200h1v1h-1zM471 200h1v1h-1zM485 200h1v1h-1zM527 200h1v1h-1zM564 200h1v1h-1zM572 200h1v1h-1zM577 200h1v1h-1zM608 200h1v1h-1zM139 201h1v1h-1zM141 201h1v1h-1zM153 201h1v1h-1zM157 201h1v1h-1zM171 201h1v1h-1zM469 201h1v1h-1zM471 201h1v1h-1zM485 201h1v1h-1zM527 201h1v1h-1zM564 201h1v1h-1zM573 201h1v1h-1zM576 201h1v1h-1zM608 201h1v1h-1zM139 202h1v1h-1zM141 202h1v1h-1zM154 202h1v1h-1zM157 202h1v1h-1zM171 202h1v1h-1zM469 202h1v1h-1zM472 202h1v1h-1zM484 202h1v1h-1zM527 202h1v1h-1zM563 202h1v1h-1zM574 202h1v1h-1zM576 202h1v1h-1zM609 202h1v1h-1zM140 203h2v1h-2zM154 203h1v1h-1zM156 203h1v1h-1zM172 203h1v1h-1zM468 203h1v1h-1zM472 203h1v1h-1zM484 203h1v1h-1zM527 203h1v1h-1zM563 203h1v1h-1zM575 203h1v1h-1zM609 203h1v1h-1zM140 204h1v1h-1zM154 204h1v1h-1zM156 204h1v1h-1zM172 204h1v1h-1zM468 204h1v1h-1zM473 204h1v1h-1zM483 204h1v1h-1zM527 204h1v1h-1zM562 204h1v1h-1zM609 204h1v1h-1zM140 205h1v1h-1zM155 205h1v1h-1zM172 205h1v1h-1zM467 205h1v1h-1zM473 205h1v1h-1zM483 205h1v1h-1zM528 205h1v1h-1zM562 205h1v1h-1zM609 205h1v1h-1zM155 206h1v1h-1zM173 206h1v1h-1zM467 206h1v1h-1zM474 206h1v1h-1zM482 206h1v1h-1zM528 206h1v1h-1zM561 206h1v1h-1zM610 206h1v1h-1zM173 207h1v1h-1zM467 207h1v1h-1zM474 207h1v1h-1zM482 207h1v1h-1zM528 207h1v1h-1zM561 207h1v1h-1zM610 207h1v1h-1zM173 208h1v1h-1zM466 208h1v1h-1zM475 208h1v1h-1zM481 208h1v1h-1zM528 208h1v1h-1zM560 208h1v1h-1zM611 208h1v1h-1zM174 209h1v1h-1zM466 209h1v1h-1zM476 209h2v1h-2zM481 209h1v1h-1zM528 209h1v1h-1zM559 209h1v1h-1zM612 209h1v1h-1zM174 210h1v1h-1zM185 210h1v1h-1zM466 210h1v1h-1zM478 210h3v1h-3zM528 210h1v1h-1zM557 210h2v1h-2zM612 210h1v1h-1zM174 211h1v1h-1zM184 211h2v1h-2zM465 211h1v1h-1zM480 211h1v1h-1zM528 211h1v1h-1zM556 211h1v1h-1zM613 211h1v1h-1zM175 212h1v1h-1zM183 212h1v1h-1zM186 212h1v1h-1zM200 212h1v1h-1zM464 212h2v1h-2zM529 212h1v1h-1zM555 212h1v1h-1zM614 212h1v1h-1zM175 213h1v1h-1zM182 213h1v1h-1zM186 213h1v1h-1zM200 213h3v1h-3zM462 213h2v1h-2zM529 213h1v1h-1zM555 213h1v1h-1zM615 213h6v1h-6zM176 214h2v1h-2zM182 214h1v1h-1zM186 214h1v1h-1zM199 214h1v1h-1zM203 214h2v1h-2zM460 214h2v1h-2zM529 214h1v1h-1zM554 214h1v1h-1zM621 214h1v1h-1zM178 215h2v1h-2zM181 215h1v1h-1zM187 215h1v1h-1zM199 215h1v1h-1zM205 215h1v1h-1zM459 215h1v1h-1zM529 215h1v1h-1zM554 215h1v1h-1zM622 215h1v1h-1zM180 216h1v1h-1zM187 216h1v1h-1zM198 216h1v1h-1zM206 216h1v1h-1zM459 216h1v1h-1zM529 216h1v1h-1zM554 216h1v1h-1zM623 216h1v1h-1zM187 217h1v1h-1zM198 217h1v1h-1zM207 217h1v1h-1zM458 217h1v1h-1zM529 217h1v1h-1zM535 217h1v1h-1zM554 217h1v1h-1zM624 217h1v1h-1zM188 218h1v1h-1zM198 218h1v1h-1zM207 218h1v1h-1zM457 218h1v1h-1zM529 218h1v1h-1zM534 218h2v1h-2zM553 218h1v1h-1zM625 218h1v1h-1zM188 219h1v1h-1zM197 219h1v1h-1zM208 219h1v1h-1zM457 219h1v1h-1zM530 219h1v1h-1zM533 219h1v1h-1zM536 219h1v1h-1zM553 219h1v1h-1zM626 219h1v1h-1zM189 220h1v1h-1zM197 220h1v1h-1zM209 220h1v1h-1zM456 220h1v1h-1zM530 220h1v1h-1zM532 220h1v1h-1zM536 220h1v1h-1zM553 220h1v1h-1zM626 220h1v1h-1zM189 221h1v1h-1zM197 221h1v1h-1zM210 221h1v1h-1zM220 221h1v1h-1zM456 221h1v1h-1zM530 221h2v1h-2zM536 221h1v1h-1zM552 221h1v1h-1zM627 221h1v1h-1zM635 221h3v1h-3zM189 222h1v1h-1zM196 222h1v1h-1zM211 222h2v1h-2zM218 222h2v1h-2zM221 222h1v1h-1zM275 222h1v1h-1zM455 222h1v1h-1zM530 222h1v1h-1zM536 222h1v1h-1zM552 222h1v1h-1zM628 222h1v1h-1zM634 222h1v1h-1zM638 222h3v1h-3zM190 223h1v1h-1zM196 223h1v1h-1zM213 223h2v1h-2zM216 223h2v1h-2zM222 223h1v1h-1zM275 223h1v1h-1zM455 223h1v1h-1zM537 223h1v1h-1zM552 223h1v1h-1zM629 223h1v1h-1zM632 223h2v1h-2zM640 223h1v1h-1zM190 224h3v1h-3zM195 224h1v1h-1zM215 224h1v1h-1zM222 224h1v1h-1zM274 224h1v1h-1zM276 224h1v1h-1zM454 224h1v1h-1zM537 224h1v1h-1zM552 224h1v1h-1zM629 224h1v1h-1zM631 224h1v1h-1zM640 224h1v1h-1zM193 225h3v1h-3zM223 225h1v1h-1zM235 225h1v1h-1zM274 225h1v1h-1zM276 225h1v1h-1zM454 225h1v1h-1zM537 225h1v1h-1zM551 225h1v1h-1zM630 225h1v1h-1zM640 225h1v1h-1zM224 226h1v1h-1zM234 226h1v1h-1zM236 226h2v1h-2zM273 226h1v1h-1zM276 226h1v1h-1zM454 226h1v1h-1zM537 226h1v1h-1zM551 226h1v1h-1zM640 226h1v1h-1zM225 227h1v1h-1zM234 227h1v1h-1zM238 227h2v1h-2zM273 227h1v1h-1zM277 227h1v1h-1zM453 227h1v1h-1zM538 227h1v1h-1zM551 227h1v1h-1zM641 227h1v1h-1zM226 228h1v1h-1zM233 228h1v1h-1zM240 228h1v1h-1zM272 228h1v1h-1zM277 228h1v1h-1zM453 228h1v1h-1zM538 228h1v1h-1zM545 228h2v1h-2zM551 228h1v1h-1zM641 228h1v1h-1zM226 229h1v1h-1zM233 229h1v1h-1zM241 229h1v1h-1zM260 229h2v1h-2zM272 229h1v1h-1zM277 229h1v1h-1zM453 229h1v1h-1zM538 229h1v1h-1zM544 229h1v1h-1zM547 229h2v1h-2zM550 229h1v1h-1zM641 229h1v1h-1zM227 230h1v1h-1zM232 230h1v1h-1zM242 230h2v1h-2zM259 230h1v1h-1zM262 230h2v1h-2zM272 230h1v1h-1zM278 230h1v1h-1zM452 230h1v1h-1zM538 230h1v1h-1zM544 230h1v1h-1zM549 230h2v1h-2zM641 230h1v1h-1zM228 231h1v1h-1zM232 231h1v1h-1zM244 231h1v1h-1zM258 231h1v1h-1zM264 231h2v1h-2zM271 231h1v1h-1zM278 231h1v1h-1zM452 231h1v1h-1zM539 231h1v1h-1zM543 231h1v1h-1zM641 231h1v1h-1zM229 232h1v1h-1zM231 232h1v1h-1zM245 232h6v1h-6zM257 232h1v1h-1zM266 232h2v1h-2zM271 232h1v1h-1zM278 232h1v1h-1zM285 232h1v1h-1zM445 232h1v1h-1zM452 232h1v1h-1zM539 232h1v1h-1zM542 232h1v1h-1zM641 232h1v1h-1zM229 233h1v1h-1zM231 233h1v1h-1zM251 233h2v1h-2zM257 233h1v1h-1zM268 233h3v1h-3zM279 233h1v1h-1zM284 233h2v1h-2zM430 233h3v1h-3zM444 233h1v1h-1zM446 233h1v1h-1zM452 233h1v1h-1zM539 233h1v1h-1zM542 233h1v1h-1zM641 233h1v1h-1zM230 234h1v1h-1zM253 234h2v1h-2zM256 234h1v1h-1zM270 234h1v1h-1zM279 234h1v1h-1zM283 234h1v1h-1zM286 234h1v1h-1zM430 234h1v1h-1zM433 234h4v1h-4zM442 234h2v1h-2zM447 234h1v1h-1zM451 234h1v1h-1zM539 234h1v1h-1zM541 234h1v1h-1zM641 234h1v1h-1zM255 235h1v1h-1zM279 235h1v1h-1zM282 235h1v1h-1zM286 235h1v1h-1zM429 235h1v1h-1zM437 235h2v1h-2zM441 235h1v1h-1zM447 235h1v1h-1zM451 235h1v1h-1zM540 235h2v1h-2zM641 235h1v1h-1zM280 236h2v1h-2zM286 236h1v1h-1zM429 236h1v1h-1zM439 236h2v1h-2zM448 236h1v1h-1zM451 236h1v1h-1zM540 236h1v1h-1zM642 236h1v1h-1zM280 237h1v1h-1zM287 237h1v1h-1zM428 237h1v1h-1zM449 237h2v1h-2zM642 237h1v1h-1zM287 238h1v1h-1zM428 238h1v1h-1zM450 238h1v1h-1zM642 238h1v1h-1zM287 239h1v1h-1zM427 239h1v1h-1zM642 239h1v1h-1zM288 240h1v1h-1zM427 240h1v1h-1zM642 240h1v1h-1zM288 241h1v1h-1zM426 241h1v1h-1zM642 241h1v1h-1zM289 242h1v1h-1zM295 242h1v1h-1zM426 242h1v1h-1zM642 242h1v1h-1zM289 243h1v1h-1zM294 243h2v1h-2zM425 243h1v1h-1zM642 243h1v1h-1zM289 244h1v1h-1zM292 244h2v1h-2zM296 244h1v1h-1zM420 244h6v1h-6zM642 244h1v1h-1zM290 245h2v1h-2zM296 245h1v1h-1zM419 245h1v1h-1zM642 245h1v1h-1zM290 246h1v1h-1zM296 246h1v1h-1zM419 246h1v1h-1zM643 246h1v1h-1zM297 247h1v1h-1zM418 247h1v1h-1zM643 247h1v1h-1zM297 248h1v1h-1zM417 248h1v1h-1zM643 248h1v1h-1zM297 249h1v1h-1zM416 249h1v1h-1zM643 249h1v1h-1zM298 250h1v1h-1zM416 250h1v1h-1zM643 250h1v1h-1zM298 251h1v1h-1zM415 251h1v1h-1zM643 251h1v1h-1zM299 252h1v1h-1zM415 252h1v1h-1zM643 252h1v1h-1zM299 253h1v1h-1zM414 253h1v1h-1zM643 253h1v1h-1zM299 254h1v1h-1zM414 254h1v1h-1zM643 254h1v1h-1zM300 255h1v1h-1zM414 255h1v1h-1zM644 255h1v1h-1zM300 256h1v1h-1zM413 256h1v1h-1zM644 256h1v1h-1zM300 257h1v1h-1zM413 257h1v1h-1zM644 257h1v1h-1zM301 258h1v1h-1zM413 258h1v1h-1zM644 258h1v1h-1zM301 259h1v1h-1zM412 259h1v1h-1zM644 259h1v1h-1zM301 260h1v1h-1zM412 260h1v1h-1zM644 260h1v1h-1zM301 261h1v1h-1zM412 261h1v1h-1zM644 261h1v1h-1zM302 262h1v1h-1zM395 262h1v1h-1zM411 262h1v1h-1zM644 262h1v1h-1zM302 263h1v1h-1zM394 263h1v1h-1zM396 263h2v1h-2zM411 263h1v1h-1zM644 263h1v1h-1zM302 264h1v1h-1zM393 264h1v1h-1zM398 264h2v1h-2zM411 264h1v1h-1zM645 264h1v1h-1zM303 265h1v1h-1zM392 265h1v1h-1zM400 265h3v1h-3zM410 265h1v1h-1zM645 265h1v1h-1zM303 266h1v1h-1zM392 266h1v1h-1zM403 266h8v1h-8zM645 266h1v1h-1zM303 267h1v1h-1zM391 267h1v1h-1zM645 267h1v1h-1zM304 268h1v1h-1zM390 268h1v1h-1zM645 268h1v1h-1zM304 269h1v1h-1zM390 269h1v1h-1zM645 269h1v1h-1zM304 270h1v1h-1zM389 270h1v1h-1zM645 270h1v1h-1zM304 271h1v1h-1zM389 271h1v1h-1zM646 271h1v1h-1zM305 272h1v1h-1zM389 272h1v1h-1zM646 272h1v1h-1zM305 273h1v1h-1zM389 273h1v1h-1zM646 273h1v1h-1zM306 274h1v1h-1zM388 274h1v1h-1zM646 274h1v1h-1zM306 275h1v1h-1zM388 275h1v1h-1zM646 275h1v1h-1zM307 276h1v1h-1zM335 276h2v1h-2zM388 276h1v1h-1zM646 276h1v1h-1zM307 277h1v1h-1zM335 277h1v1h-1zM337 277h2v1h-2zM388 277h1v1h-1zM647 277h1v1h-1zM308 278h1v1h-1zM334 278h1v1h-1zM339 278h2v1h-2zM387 278h1v1h-1zM647 278h1v1h-1zM665 278h1v1h-1zM308 279h1v1h-1zM325 279h1v1h-1zM334 279h1v1h-1zM340 279h1v1h-1zM387 279h1v1h-1zM647 279h1v1h-1zM664 279h2v1h-2zM309 280h1v1h-1zM325 280h1v1h-1zM334 280h1v1h-1zM340 280h1v1h-1zM360 280h1v1h-1zM387 280h1v1h-1zM647 280h1v1h-1zM664 280h2v1h-2zM309 281h1v1h-1zM324 281h1v1h-1zM326 281h1v1h-1zM333 281h1v1h-1zM341 281h1v1h-1zM360 281h1v1h-1zM387 281h1v1h-1zM647 281h1v1h-1zM663 281h1v1h-1zM665 281h1v1h-1zM310 282h1v1h-1zM324 282h1v1h-1zM326 282h1v1h-1zM333 282h1v1h-1zM341 282h1v1h-1zM360 282h2v1h-2zM375 282h1v1h-1zM386 282h1v1h-1zM648 282h1v1h-1zM663 282h1v1h-1zM665 282h1v1h-1zM311 283h2v1h-2zM323 283h1v1h-1zM327 283h1v1h-1zM333 283h1v1h-1zM341 283h1v1h-1zM359 283h1v1h-1zM361 283h1v1h-1zM374 283h2v1h-2zM386 283h1v1h-1zM648 283h1v1h-1zM655 283h1v1h-1zM662 283h1v1h-1zM666 283h1v1h-1zM313 284h2v1h-2zM323 284h1v1h-1zM327 284h1v1h-1zM332 284h1v1h-1zM341 284h1v1h-1zM359 284h1v1h-1zM362 284h1v1h-1zM374 284h1v1h-1zM376 284h1v1h-1zM386 284h1v1h-1zM648 284h1v1h-1zM655 284h2v1h-2zM662 284h1v1h-1zM666 284h1v1h-1zM315 285h1v1h-1zM322 285h1v1h-1zM327 285h1v1h-1zM332 285h1v1h-1zM342 285h1v1h-1zM359 285h1v1h-1zM362 285h1v1h-1zM373 285h1v1h-1zM376 285h1v1h-1zM386 285h1v1h-1zM648 285h1v1h-1zM654 285h1v1h-1zM657 285h2v1h-2zM661 285h1v1h-1zM666 285h1v1h-1zM316 286h1v1h-1zM322 286h1v1h-1zM328 286h1v1h-1zM332 286h1v1h-1zM342 286h1v1h-1zM359 286h1v1h-1zM363 286h1v1h-1zM373 286h1v1h-1zM376 286h1v1h-1zM385 286h1v1h-1zM648 286h1v1h-1zM654 286h1v1h-1zM659 286h1v1h-1zM661 286h1v1h-1zM666 286h1v1h-1zM317 287h1v1h-1zM322 287h1v1h-1zM328 287h1v1h-1zM331 287h1v1h-1zM342 287h1v1h-1zM358 287h1v1h-1zM363 287h1v1h-1zM372 287h1v1h-1zM376 287h1v1h-1zM385 287h1v1h-1zM649 287h1v1h-1zM653 287h1v1h-1zM660 287h1v1h-1zM666 287h1v1h-1zM317 288h1v1h-1zM321 288h1v1h-1zM329 288h1v1h-1zM331 288h1v1h-1zM342 288h1v1h-1zM358 288h1v1h-1zM364 288h1v1h-1zM372 288h1v1h-1zM377 288h1v1h-1zM385 288h1v1h-1zM649 288h1v1h-1zM653 288h1v1h-1zM666 288h1v1h-1zM318 289h1v1h-1zM321 289h1v1h-1zM329 289h1v1h-1zM331 289h1v1h-1zM343 289h1v1h-1zM358 289h1v1h-1zM364 289h1v1h-1zM371 289h1v1h-1zM377 289h1v1h-1zM385 289h1v1h-1zM649 289h1v1h-1zM652 289h1v1h-1zM666 289h1v1h-1zM319 290h2v1h-2zM330 290h1v1h-1zM343 290h1v1h-1zM358 290h1v1h-1zM365 290h1v1h-1zM371 290h1v1h-1zM377 290h1v1h-1zM384 290h1v1h-1zM649 290h1v1h-1zM652 290h1v1h-1zM666 290h1v1h-1zM320 291h1v1h-1zM330 291h1v1h-1zM343 291h1v1h-1zM357 291h1v1h-1zM365 291h3v1h-3zM370 291h1v1h-1zM378 291h1v1h-1zM384 291h1v1h-1zM649 291h1v1h-1zM652 291h1v1h-1zM667 291h1v1h-1zM343 292h1v1h-1zM350 292h1v1h-1zM357 292h1v1h-1zM368 292h3v1h-3zM378 292h1v1h-1zM383 292h1v1h-1zM649 292h1v1h-1zM651 292h1v1h-1zM667 292h1v1h-1zM344 293h1v1h-1zM349 293h1v1h-1zM351 293h1v1h-1zM357 293h1v1h-1zM378 293h1v1h-1zM383 293h1v1h-1zM650 293h2v1h-2zM667 293h1v1h-1zM344 294h1v1h-1zM348 294h1v1h-1zM351 294h1v1h-1zM357 294h1v1h-1zM379 294h1v1h-1zM382 294h1v1h-1zM650 294h1v1h-1zM667 294h1v1h-1zM344 295h1v1h-1zM347 295h1v1h-1zM352 295h1v1h-1zM356 295h1v1h-1zM379 295h1v1h-1zM382 295h1v1h-1zM650 295h1v1h-1zM667 295h1v1h-1zM344 296h1v1h-1zM347 296h1v1h-1zM352 296h1v1h-1zM356 296h1v1h-1zM379 296h1v1h-1zM381 296h1v1h-1zM667 296h1v1h-1zM345 297h2v1h-2zM353 297h1v1h-1zM356 297h1v1h-1zM379 297h1v1h-1zM381 297h1v1h-1zM667 297h1v1h-1zM345 298h1v1h-1zM353 298h1v1h-1zM356 298h1v1h-1zM380 298h1v1h-1zM667 298h1v1h-1zM354 299h2v1h-2zM380 299h1v1h-1zM667 299h1v1h-1zM354 300h2v1h-2zM668 300h1v1h-1zM355 301h1v1h-1zM668 301h1v1h-1zM668 302h1v1h-1zM668 303h1v1h-1zM668 304h1v1h-1zM668 305h1v1h-1zM668 306h1v1h-1zM668 307h1v1h-1zM669 308h1v1h-1zM669 309h1v1h-1zM669 310h1v1h-1zM669 311h1v1h-1zM669 312h1v1h-1zM669 313h1v1h-1zM669 314h1v1h-1zM669 315h1v1h-1zM705 315h1v1h-1zM670 316h1v1h-1zM705 316h1v1h-1zM670 317h1v1h-1zM704 317h1v1h-1zM706 317h1v1h-1zM725 317h1v1h-1zM670 318h1v1h-1zM704 318h1v1h-1zM706 318h1v1h-1zM723 318h3v1h-3zM670 319h1v1h-1zM704 319h1v1h-1zM706 319h1v1h-1zM715 319h3v1h-3zM721 319h2v1h-2zM726 319h1v1h-1zM670 320h1v1h-1zM704 320h1v1h-1zM707 320h1v1h-1zM715 320h1v1h-1zM718 320h3v1h-3zM726 320h1v1h-1zM670 321h1v1h-1zM703 321h1v1h-1zM707 321h1v1h-1zM714 321h1v1h-1zM726 321h1v1h-1zM670 322h1v1h-1zM703 322h1v1h-1zM707 322h1v1h-1zM714 322h1v1h-1zM727 322h1v1h-1zM670 323h1v1h-1zM703 323h1v1h-1zM707 323h1v1h-1zM713 323h1v1h-1zM727 323h1v1h-1zM670 324h1v1h-1zM702 324h1v1h-1zM708 324h1v1h-1zM713 324h1v1h-1zM727 324h1v1h-1zM670 325h1v1h-1zM702 325h1v1h-1zM708 325h1v1h-1zM712 325h1v1h-1zM727 325h1v1h-1zM670 326h1v1h-1zM702 326h1v1h-1zM708 326h1v1h-1zM712 326h1v1h-1zM728 326h1v1h-1zM670 327h1v1h-1zM701 327h1v1h-1zM709 327h1v1h-1zM712 327h1v1h-1zM728 327h1v1h-1zM670 328h1v1h-1zM701 328h1v1h-1zM709 328h1v1h-1zM711 328h1v1h-1zM728 328h1v1h-1zM735 328h6v1h-6zM750 328h1v1h-1zM670 329h1v1h-1zM701 329h1v1h-1zM709 329h1v1h-1zM711 329h1v1h-1zM729 329h1v1h-1zM734 329h1v1h-1zM741 329h1v1h-1zM749 329h2v1h-2zM670 330h1v1h-1zM701 330h1v1h-1zM710 330h1v1h-1zM729 330h1v1h-1zM733 330h1v1h-1zM741 330h1v1h-1zM749 330h1v1h-1zM751 330h1v1h-1zM670 331h1v1h-1zM700 331h1v1h-1zM710 331h1v1h-1zM729 331h1v1h-1zM732 331h1v1h-1zM742 331h1v1h-1zM748 331h1v1h-1zM751 331h1v1h-1zM670 332h1v1h-1zM695 332h6v1h-6zM730 332h2v1h-2zM742 332h1v1h-1zM747 332h1v1h-1zM752 332h1v1h-1zM671 333h1v1h-1zM695 333h1v1h-1zM730 333h1v1h-1zM743 333h1v1h-1zM747 333h1v1h-1zM752 333h1v1h-1zM671 334h1v1h-1zM695 334h1v1h-1zM744 334h1v1h-1zM746 334h1v1h-1zM753 334h1v1h-1zM671 335h1v1h-1zM695 335h1v1h-1zM744 335h1v1h-1zM746 335h1v1h-1zM753 335h1v1h-1zM671 336h1v1h-1zM694 336h1v1h-1zM745 336h1v1h-1zM754 336h1v1h-1zM671 337h1v1h-1zM694 337h1v1h-1zM754 337h1v1h-1zM671 338h1v1h-1zM694 338h1v1h-1zM755 338h1v1h-1zM671 339h1v1h-1zM694 339h1v1h-1zM671 340h1v1h-1zM694 340h1v1h-1zM671 341h1v1h-1zM694 341h1v1h-1zM671 342h1v1h-1zM694 342h1v1h-1zM671 343h1v1h-1zM693 343h1v1h-1zM671 344h1v1h-1zM693 344h1v1h-1zM671 345h1v1h-1zM693 345h1v1h-1zM671 346h1v1h-1zM693 346h1v1h-1zM671 347h1v1h-1zM693 347h1v1h-1zM671 348h1v1h-1zM693 348h1v1h-1zM671 349h1v1h-1zM692 349h1v1h-1zM671 350h1v1h-1zM692 350h1v1h-1zM671 351h1v1h-1zM692 351h1v1h-1zM671 352h1v1h-1zM692 352h1v1h-1zM671 353h1v1h-1zM692 353h1v1h-1zM671 354h1v1h-1zM692 354h1v1h-1zM671 355h1v1h-1zM692 355h1v1h-1zM671 356h1v1h-1zM691 356h1v1h-1zM672 357h1v1h-1zM691 357h1v1h-1zM672 358h1v1h-1zM691 358h1v1h-1zM672 359h1v1h-1zM691 359h1v1h-1zM672 360h1v1h-1zM691 360h1v1h-1zM672 361h1v1h-1zM691 361h1v1h-1zM672 362h1v1h-1zM691 362h1v1h-1zM672 363h1v1h-1zM690 363h1v1h-1zM672 364h1v1h-1zM690 364h1v1h-1zM672 365h1v1h-1zM690 365h1v1h-1zM672 366h1v1h-1zM690 366h1v1h-1zM672 367h1v1h-1zM690 367h1v1h-1zM672 368h1v1h-1zM690 368h1v1h-1zM672 369h1v1h-1zM690 369h1v1h-1zM672 370h1v1h-1zM689 370h1v1h-1zM672 371h1v1h-1zM689 371h1v1h-1zM672 372h1v1h-1zM689 372h1v1h-1zM672 373h1v1h-1zM689 373h1v1h-1zM672 374h1v1h-1zM689 374h1v1h-1zM672 375h1v1h-1zM689 375h1v1h-1zM672 376h1v1h-1zM688 376h1v1h-1zM672 377h1v1h-1zM688 377h1v1h-1zM672 378h1v1h-1zM688 378h1v1h-1zM672 379h1v1h-1zM688 379h1v1h-1zM672 380h1v1h-1zM688 380h1v1h-1zM673 381h1v1h-1zM688 381h1v1h-1zM673 382h1v1h-1zM687 382h1v1h-1zM673 383h1v1h-1zM687 383h1v1h-1zM673 384h1v1h-1zM687 384h1v1h-1zM673 385h1v1h-1zM687 385h1v1h-1zM673 386h1v1h-1zM687 386h1v1h-1zM673 387h1v1h-1zM687 387h1v1h-1zM673 388h1v1h-1zM686 388h1v1h-1zM673 389h1v1h-1zM686 389h1v1h-1zM673 390h1v1h-1zM686 390h1v1h-1zM673 391h1v1h-1zM686 391h1v1h-1zM673 392h1v1h-1zM686 392h1v1h-1zM673 393h1v1h-1zM686 393h1v1h-1zM673 394h1v1h-1zM685 394h1v1h-1zM673 395h1v1h-1zM685 395h1v1h-1zM673 396h1v1h-1zM685 396h1v1h-1zM673 397h1v1h-1zM685 397h1v1h-1zM673 398h1v1h-1zM685 398h1v1h-1zM673 399h1v1h-1zM685 399h1v1h-1zM673 400h1v1h-1zM684 400h1v1h-1zM673 401h1v1h-1zM684 401h1v1h-1zM673 402h1v1h-1zM684 402h1v1h-1zM673 403h1v1h-1zM684 403h1v1h-1zM673 404h1v1h-1zM684 404h1v1h-1zM674 405h1v1h-1zM684 405h1v1h-1zM674 406h1v1h-1zM683 406h1v1h-1zM674 407h1v1h-1zM683 407h1v1h-1zM674 408h1v1h-1zM683 408h1v1h-1zM674 409h1v1h-1zM683 409h1v1h-1zM674 410h1v1h-1zM683 410h1v1h-1zM674 411h1v1h-1zM682 411h1v1h-1zM674 412h1v1h-1zM682 412h1v1h-1zM674 413h1v1h-1zM682 413h1v1h-1zM674 414h1v1h-1zM682 414h1v1h-1zM674 415h1v1h-1zM682 415h1v1h-1zM674 416h1v1h-1zM682 416h1v1h-1zM674 417h1v1h-1zM681 417h1v1h-1zM674 418h1v1h-1zM681 418h1v1h-1zM674 419h1v1h-1zM681 419h1v1h-1zM674 420h1v1h-1zM681 420h1v1h-1zM674 421h1v1h-1zM681 421h1v1h-1zM674 422h1v1h-1zM681 422h1v1h-1zM674 423h1v1h-1zM680 423h1v1h-1zM674 424h1v1h-1zM680 424h1v1h-1zM674 425h1v1h-1zM680 425h1v1h-1zM674 426h1v1h-1zM680 426h1v1h-1zM674 427h1v1h-1zM679 427h1v1h-1zM674 428h1v1h-1zM679 428h1v1h-1zM675 429h1v1h-1zM679 429h1v1h-1zM675 430h1v1h-1zM678 430h1v1h-1zM675 431h1v1h-1zM678 431h1v1h-1zM675 432h1v1h-1zM678 432h1v1h-1zM675 433h1v1h-1zM677 433h1v1h-1zM675 434h1v1h-1zM677 434h1v1h-1zM675 435h1v1h-1zM677 435h1v1h-1zM675 436h1v1h-1zM677 436h1v1h-1zM675 437h2v1h-2zM675 438h2v1h-2zM675 439h2v1h-2zM675 440h1v1h-1zM675 441h1v1h-1z" fill="#00c800"/>
</g>
<g shape-rendering="crispEdges">
<line x1="40" y1="439.5" x2="760" y2="439.5" class="g"/><line x1="40" y1="417.5" x2="760" y2="417.5" class="g"/><line x1="40" y1="396.5" x2="760" y2="396.5" class="g"/><line x1="40" y1="375.5" x2="760" y2="375.5" class="g"/><line x1="40" y1="354.5" x2="760" y2="354.5" class="g"/><line x1="40" y1="332.5" x2="760" y2="332.5" class="g"/><line x1="40" y1="311.5" x2="760" y2="311.5" class="g"/><line x1="40" y1="290.5" x2="760" y2="290.5" class="g"/><line x1="40" y1="268.5" x2="760" y2="268.5" class="g"/><line x1="40" y1="247.5" x2="760" y2="247.5" class="g"/><line x1="40" y1="226.5" x2="760" y2="226.5" class="g"/><line x1="40" y1="205.5" x2="760" y2="205.5" class="g"/><line x1="40" y1="183.5" x2="760" y2="183.5" class="g"/><line x1="40" y1="162.5" x2="760" y2="162.5" class="g"/><line x1="40" y1="141.5" x2="760" y2="141.5" class="g"/><line x1="40" y1="120.5" x2="760" y2="120.5" class="g"/><line x1="40" y1="98.5" x2="760" y2="98.5" class="g"/><line x1="40" y1="77.5" x2="760" y2="77.5" class="g"/><line x1="40" y1="56.5" x2="760" y2="56.5" class="g"/><line x1="130.5" y1="40" x2="130.5" y2="460" class="g"/><line x1="220.5" y1="40" x2="220.5" y2="460" class="g"/><line x1="310.5" y1="40" x2="310.5" y2="460" class="g"/><line x1="400.5" y1="40" x2="400.5" y2="460" class="g"/><line x1="490.5" y1="40" x2="490.5" y2="460" class="g"/><line x1="580.5" y1="40" x2="580.5" y2="460" class="g"/><line x1="670.5" y1="40" x2="670.5" y2="460" class="g"/><rect x="40" y="461" width="1" height="2" fill="#000"/><rect x="70" y="461" width="1" height="2" fill="#000"/><rect x="100" y="461" width="1" height="2" fill="#000"/><rect x="130" y="461" width="1" height="2" fill="#000"/><rect x="160" y="461" width="1" height="2" fill="#000"/><rect x="190" y="461" width="1" height="2" fill="#000"/><rect x="220" y="461" width="1" height="2" fill="#000"/><rect x="250" y="461" width="1" height="2" fill="#000"/><rect x="280" y="461" width="1" height="2" fill="#000"/><rect x="310" y="461" width="1" height="2" fill="#000"/><rect x="340" y="461" width="1" height="2" fill="#000"/><rect x="370" y="461" width="1" height="2" fill="#000"/><rect x="400" y="461" width="1" height="2" fill="#000"/><rect x="430" y="461" width="1" height="2" fill="#000"/><rect x="460" y="461" width="1" height="2" fill="#000"/><rect x="490" y="461" width="1" height="2" fill="#000"/><rect x="520" y="461" width="1" height="2" fill="#000"/><rect x="550" y="461" width="1" height="2" fill="#000"/><rect x="580" y="461" width="1" height="2" fill="#000"/><rect x="610" y="461" width="1" height="2" fill="#000"/><rect x="640" y="461" width="1" height="2" fill="#000"/><rect x="670" y="461" width="1" height="2" fill="#000"/><rect x="700" y="461" width="1" height="2" fill="#000"/><rect x="730" y="461" width="1" height="2" fill="#000"/><rect x="760" y="461" width="1" height="2" fill="#000"/><rect x="40.5" y="40.5" width="720" height="420" fill="none" stroke="#000" stroke-width="1"/>
</g>
<text x="146.5" y="36" text-anchor="middle" style="fill:#ff0000">Temperatur</text>
<text x="399" y="36" text-anchor="middle" style="fill:#0000ff">Taupunkt</text>
<text x="653" y="36" text-anchor="middle" style="fill:#00c800">Windchill</text>
<text x="37" y="466" text-anchor="end">3,5</text><text x="37" y="445" text-anchor="end">4,0</text><text x="37" y="423" text-anchor="end">4,5</text><text x="37" y="402" text-anchor="end">5,0</text><text x="37" y="381" text-anchor="end">5,5</text><text x="37" y="360" text-anchor="end">6,0</text><text x="37" y="338" text-anchor="end">6,5</text><text x="37" y="317" text-anchor="end">7,0</text><text x="37" y="296" text-anchor="end">7,5</text><text x="37" y="274" text-anchor="end">8,0</text><text x="37" y="253" text-anchor="end">8,5</text><text x="37" y="232" text-anchor="end">9,0</text><text x="37" y="211" text-anchor="end">9,5</text><text x="37" y="189" text-anchor="end">10,0</text><text x="37" y="168" text-anchor="end">10,5</text><text x="37" y="147" text-anchor="end">11,0</text><text x="37" y="126" text-anchor="end">11,5</text><text x="37" y="104" text-anchor="end">12,0</text><text x="37" y="83" text-anchor="end">12,5</text><text x="37" y="62" text-anchor="end">13,0</text><text x="37" y="50" text-anchor="end">°C</text><text x="40.5" y="479" text-anchor="middle">00:00</text><text x="40.5" y="494" text-anchor="middle">29.03.15</text><text x="130.5" y="479" text-anchor="middle">03:00</text><text x="130.5" y="494" text-anchor="middle">29.03.15</text><text x="220.5" y="479" text-anchor="middle">06:00</text><text x="220.5" y="494" text-anchor="middle">29.03.15</text><text x="310.5" y="479" text-anchor="middle">09:00</text><text x="310.5" y="494" text-anchor="middle">29.03.15</text><text x="400.5" y="479" text-anchor="middle">12:00</text><text x="400.5" y="494" text-anchor="middle">29.03.15</text><text x="490.5" y="479" text-anchor="middle">15:00</text><text x="490.5" y="494" text-anchor="middle">29.03.15</text><text x="580.5" y="479" text-anchor="middle">18:00</text><text x="580.5" y="494" text-anchor="middle">29.03.15</text><text x="670.5" y="479" text-anchor="middle">21:00</text><text x="670.5" y="494" text-anchor="middle">29.03.15</text><text x="760.5" y="479" text-anchor="middle">00:00</text><text x="760.5" y="494" text-anchor="middle">30.03.15</text>
</svg>
</body></html>
